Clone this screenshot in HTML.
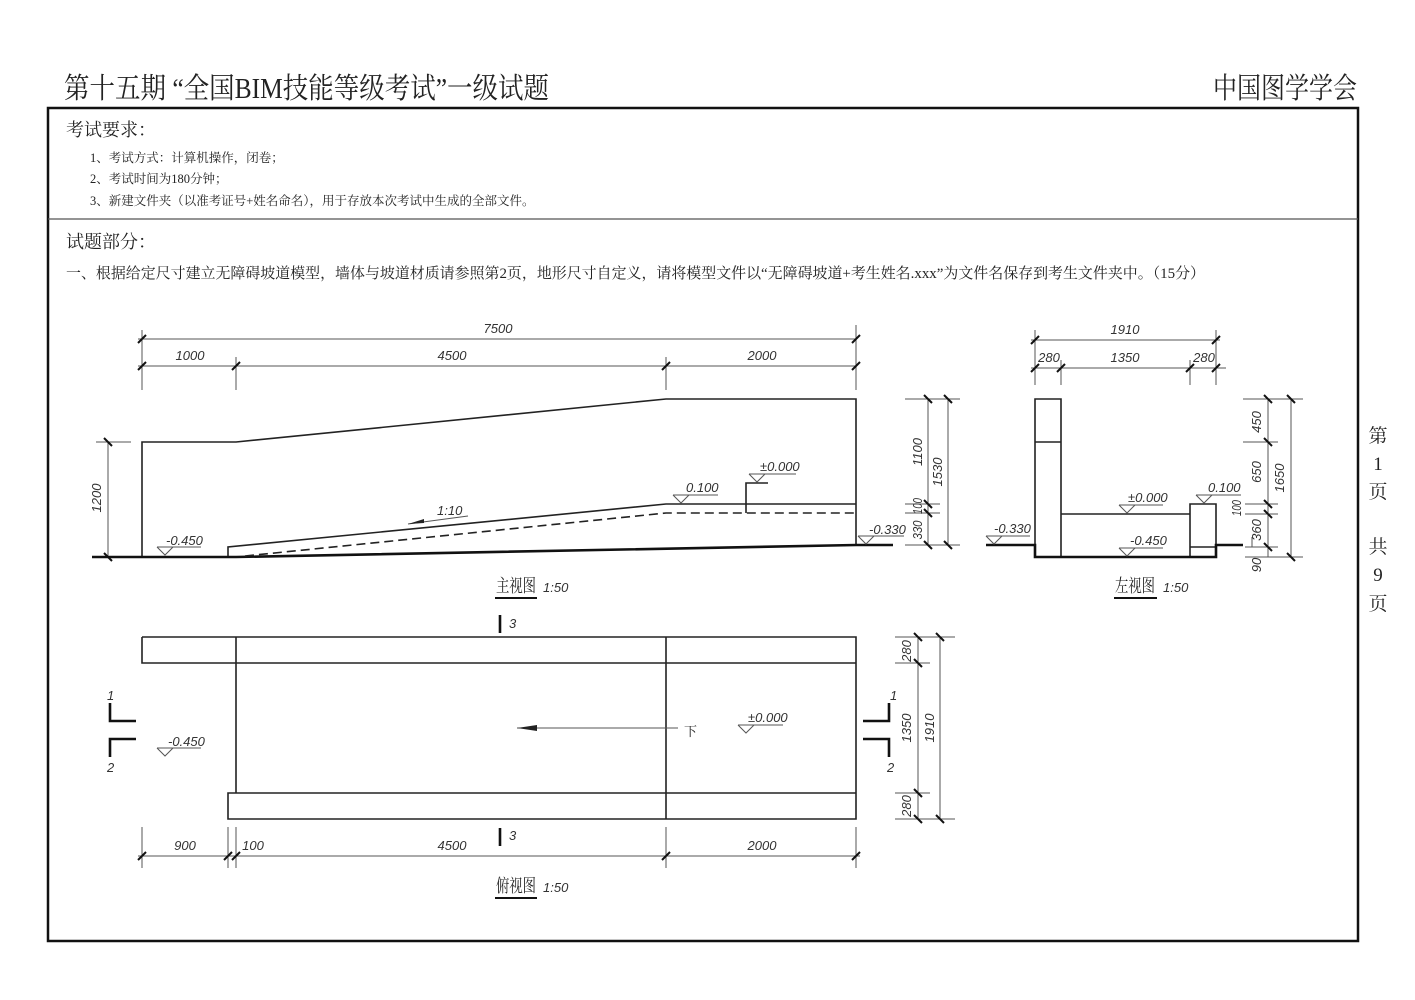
<!DOCTYPE html>
<html><head><meta charset="utf-8">
<style>
html,body{margin:0;padding:0;background:#fff;}
svg{display:block;}
.cn{font-family:"Liberation Serif","Noto Serif CJK SC",serif;fill:#222;}
.d{font-family:"Liberation Sans",sans-serif;font-style:italic;fill:#333;font-size:13px;}
.l{stroke:#222;stroke-width:1.6;fill:none;}
.t{stroke:#111;stroke-width:2.6;fill:none;}
.dm{stroke:#555;stroke-width:1;fill:none;}
.tk{stroke:#111;stroke-width:2;fill:none;}
</style></head><body>
<svg width="1415" height="1000" viewBox="0 0 1415 1000" xmlns="http://www.w3.org/2000/svg">
<rect width="1415" height="1000" fill="#fff"/>
<text class="cn" x="64" y="98" font-size="29" textLength="485" lengthAdjust="spacingAndGlyphs">第十五期 “全国BIM技能等级考试”一级试题</text>
<text class="cn" x="1213" y="98" font-size="29" textLength="144" lengthAdjust="spacingAndGlyphs">中国图学学会</text>
<rect x="48" y="108" width="1310" height="833" fill="none" stroke="#111" stroke-width="2.5"/>
<line x1="48" y1="219" x2="1358" y2="219" stroke="#555" stroke-width="1.3"/>
<text class="cn" x="66" y="136" font-size="18">考试要求：</text>
<text class="cn" x="90" y="162" font-size="12.5">1、考试方式：计算机操作，闭卷；</text>
<text class="cn" x="90" y="183" font-size="12.5">2、考试时间为180分钟；</text>
<text class="cn" x="90" y="205" font-size="12.5">3、新建文件夹（以准考证号+姓名命名），用于存放本次考试中生成的全部文件。</text>
<text class="cn" x="66" y="248" font-size="18">试题部分：</text>
<text class="cn" x="66" y="278" font-size="15" textLength="1139" lengthAdjust="spacingAndGlyphs">一、根据给定尺寸建立无障碍坡道模型，墙体与坡道材质请参照第2页，地形尺寸自定义，请将模型文件以“无障碍坡道+考生姓名.xxx”为文件名保存到考生文件夹中。（15分）</text>
<g class="cn" font-size="19" text-anchor="middle">
<text x="1378" y="442">第</text><text x="1378" y="470">1</text><text x="1378" y="498">页</text>
<text x="1378" y="553">共</text><text x="1378" y="581">9</text><text x="1378" y="610">页</text>
</g>

<!-- FRONT VIEW -->
<path class="l" d="M142 556 V442 H236 L666 399 H856 V545"/>
<path class="t" d="M92 557 H236 L856 545 H893"/>
<path class="l" d="M228 556 V547 L666 504 H856"/>
<path class="l" d="M245 556 L666 513 H856" stroke-dasharray="9,5"/>
<path class="l" d="M746 513 V483 H768"/>
<path class="dm" d="M142 330 V390 M236 357 V390 M666 357 V390 M856 325 V390 M138 339 H856 M138 366 H856"/>
<path class="tk" d="M138 343 L146 335 M852 343 L860 335 M138 370 L146 362 M232 370 L240 362 M662 370 L670 362 M852 370 L860 362"/>
<text class="d" x="498" y="333" text-anchor="middle" font-size="14">7500</text>
<text class="d" x="190" y="360" text-anchor="middle" font-size="14">1000</text>
<text class="d" x="452" y="360" text-anchor="middle" font-size="14">4500</text>
<text class="d" x="762" y="360" text-anchor="middle" font-size="14">2000</text>
<path class="dm" d="M96 442 H131 M108 442 V557"/>
<path class="tk" d="M104 438 L112 446 M104 553 L112 561"/>
<text class="d" transform="translate(101,498) rotate(-90)" text-anchor="middle" font-size="14">1200</text>
<path class="dm" d="M905 399 H960 M905 504 H940 M905 513 H940 M905 545 H960 M928 399 V545 M948 399 V545"/>
<path class="tk" d="M924 395 L932 403 M944 395 L952 403 M924 500 L932 508 M924 509 L932 517 M924 541 L932 549 M944 541 L952 549"/>
<text class="d" transform="translate(922,452) rotate(-90)" text-anchor="middle" font-size="13">1100</text>
<text class="d" transform="translate(942,472) rotate(-90)" text-anchor="middle" font-size="13">1530</text>
<text class="d" transform="translate(922,506) rotate(-90)" text-anchor="middle" font-size="12" textLength="16" lengthAdjust="spacingAndGlyphs">100</text>
<text class="d" transform="translate(922,530) rotate(-90)" text-anchor="middle" font-size="12" textLength="19" lengthAdjust="spacingAndGlyphs">330</text>
<path class="dm" d="M157 547 H201 M157 547 L165 555 L173 547" stroke="#333"/>
<text class="d" x="166" y="545">-0.450</text>
<path class="dm" d="M749 474 H796 M749 474 L757 482 L765 474" stroke="#333"/>
<text class="d" x="760" y="471" font-size="12">±0.000</text>
<path class="dm" d="M673 495 H718 M673 495 L681 503 L689 495" stroke="#333"/>
<text class="d" x="686" y="492" font-size="12">0.100</text>
<path class="dm" d="M858 536 H904 M858 536 L866 544 L874 536" stroke="#333"/>
<text class="d" x="869" y="534">-0.330</text>
<path class="dm" d="M408 524 L468 516" stroke="#333"/>
<path d="M408 524 L424 519 L424 523 Z" fill="#222"/>
<text class="d" x="437" y="515" font-size="12">1:10</text>
<text class="cn" x="496" y="592" font-size="18" textLength="40" lengthAdjust="spacingAndGlyphs">主视图</text>
<line x1="495" y1="598" x2="537" y2="598" stroke="#111" stroke-width="2"/>
<text class="d" x="543" y="592" font-size="14">1:50</text>

<!-- LEFT VIEW -->
<path class="l" d="M1035 556 V399 H1061 V556 M1035 442 H1061 M1061 514 H1190 M1190 556 V504 H1216 V556 M1190 547 H1216"/>
<path class="t" d="M986 545 H1035 V557 H1216 V545 H1243"/>
<path class="dm" d="M1035 330 V385 M1061 360 V385 M1190 360 V385 M1216 330 V385 M1031 340 H1220 M1031 368 H1226"/>
<path class="tk" d="M1031 344 L1039 336 M1212 344 L1220 336 M1031 372 L1039 364 M1057 372 L1065 364 M1186 372 L1194 364 M1212 372 L1220 364"/>
<text class="d" x="1125" y="334" text-anchor="middle" font-size="14">1910</text>
<text class="d" x="1049" y="362" text-anchor="middle" font-size="14">280</text>
<text class="d" x="1125" y="362" text-anchor="middle" font-size="14">1350</text>
<text class="d" x="1204" y="362" text-anchor="middle" font-size="14">280</text>
<path class="dm" d="M1243 399 H1303 M1243 442 H1278 M1245 504 H1278 M1245 514 H1278 M1245 547 H1278 M1245 557 H1303 M1268 399 V557 M1291 399 V557 M1252 537 V547"/>
<path class="tk" d="M1264 395 L1272 403 M1287 395 L1295 403 M1264 438 L1272 446 M1264 500 L1272 508 M1264 510 L1272 518 M1264 543 L1272 551 M1287 553 L1295 561"/>
<text class="d" transform="translate(1261,422) rotate(-90)" text-anchor="middle" font-size="13">450</text>
<text class="d" transform="translate(1261,472) rotate(-90)" text-anchor="middle" font-size="13">650</text>
<text class="d" transform="translate(1284,478) rotate(-90)" text-anchor="middle" font-size="13">1650</text>
<text class="d" transform="translate(1241,508) rotate(-90)" text-anchor="middle" font-size="11" textLength="16" lengthAdjust="spacingAndGlyphs">100</text>
<text class="d" transform="translate(1261,530) rotate(-90)" text-anchor="middle" font-size="13">360</text>
<text class="d" transform="translate(1261,565) rotate(-90)" text-anchor="middle" font-size="12">90</text>
<path class="dm" d="M1119 505 H1163 M1119 505 L1127 513 L1135 505" stroke="#333"/>
<text class="d" x="1128" y="502" font-size="12">±0.000</text>
<path class="dm" d="M1196 495 H1241 M1196 495 L1204 503 L1212 495" stroke="#333"/>
<text class="d" x="1208" y="492" font-size="12">0.100</text>
<path class="dm" d="M1119 548 H1163 M1119 548 L1127 556 L1135 548" stroke="#333"/>
<text class="d" x="1130" y="545" font-size="12">-0.450</text>
<path class="dm" d="M986 536 H1030 M986 536 L994 544 L1002 536" stroke="#333"/>
<text class="d" x="994" y="533" font-size="12">-0.330</text>
<text class="cn" x="1115" y="592" font-size="18" textLength="40" lengthAdjust="spacingAndGlyphs">左视图</text>
<line x1="1114" y1="598" x2="1157" y2="598" stroke="#111" stroke-width="2"/>
<text class="d" x="1163" y="592" font-size="14">1:50</text>

<!-- PLAN VIEW -->
<path class="l" d="M142 637 H856 V819 H228 V793 H856 M142 637 V663 H856 M236 637 V793 M666 637 V819"/>
<path class="dm" d="M517 728 H678" stroke="#222"/>
<path d="M517 728 L537 725 L537 731 Z" fill="#222"/>
<text class="cn" x="684" y="736" font-size="13">下</text>
<path class="dm" d="M738 725 H783 M738 725 L746 733 L754 725" stroke="#333"/>
<text class="d" x="748" y="722" font-size="12">±0.000</text>
<path class="dm" d="M157 748 H201 M157 748 L165 756 L173 748" stroke="#333"/>
<text class="d" x="168" y="746" font-size="12">-0.450</text>
<path class="t" d="M110 703 V721 H136 M110 757 V739 H136 M889 703 V721 H863 M889 757 V739 H863 M500 615 V633 M500 828 V846"/>
<text class="d" x="107" y="700" font-size="13">1</text>
<text class="d" x="107" y="772" font-size="13">2</text>
<text class="d" x="890" y="700" font-size="13">1</text>
<text class="d" x="887" y="772" font-size="13">2</text>
<text class="d" x="509" y="628" font-size="13">3</text>
<text class="d" x="509" y="840" font-size="13">3</text>
<path class="dm" d="M142 827 V868 M228 827 V868 M236 827 V868 M666 827 V868 M856 827 V868 M138 856 H860"/>
<path class="tk" d="M138 860 L146 852 M224 860 L232 852 M232 860 L240 852 M662 860 L670 852 M852 860 L860 852"/>
<text class="d" x="185" y="850" text-anchor="middle" font-size="14">900</text>
<text class="d" x="253" y="850" text-anchor="middle" font-size="14">100</text>
<text class="d" x="452" y="850" text-anchor="middle" font-size="14">4500</text>
<text class="d" x="762" y="850" text-anchor="middle" font-size="14">2000</text>
<path class="dm" d="M895 637 H955 M895 663 H930 M895 793 H930 M895 819 H955 M918 637 V819 M940 637 V819"/>
<path class="tk" d="M914 633 L922 641 M936 633 L944 641 M914 659 L922 667 M914 789 L922 797 M914 815 L922 823 M936 815 L944 823"/>
<text class="d" transform="translate(911,651) rotate(-90)" text-anchor="middle" font-size="13">280</text>
<text class="d" transform="translate(911,728) rotate(-90)" text-anchor="middle" font-size="13">1350</text>
<text class="d" transform="translate(934,728) rotate(-90)" text-anchor="middle" font-size="13">1910</text>
<text class="d" transform="translate(911,806) rotate(-90)" text-anchor="middle" font-size="13">280</text>
<text class="cn" x="496" y="892" font-size="18" textLength="40" lengthAdjust="spacingAndGlyphs">俯视图</text>
<line x1="495" y1="898" x2="537" y2="898" stroke="#111" stroke-width="2"/>
<text class="d" x="543" y="892" font-size="14">1:50</text>
</svg>
</body></html>
